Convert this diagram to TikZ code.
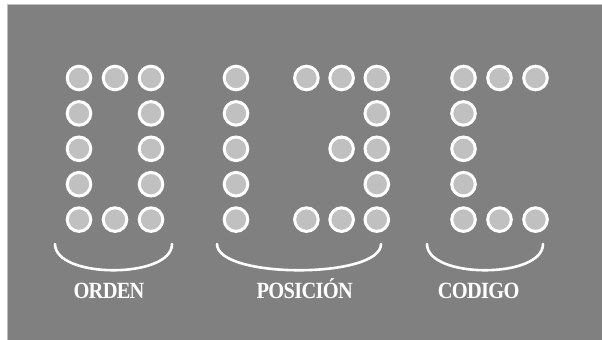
\documentclass[tikz,border=0pt]{standalone}
\usepackage{fontspec}
\setmainfont{Liberation Serif}[FakeStretch=0.88, LetterSpace=-3]
\usepackage{xcolor}
\usetikzlibrary{positioning}
\definecolor{panel}{HTML}{808080}
\definecolor{dotfill}{HTML}{C0C0C0}
\tikzstyle{every node}=[font=\bfseries\fontsize{16.5}{19}\selectfont]
\tikzstyle{dot} = [circle, draw=white, fill=dotfill, line width=0.075cm, minimum size=0.59cm, inner sep=0pt]
\tikzstyle{brace} = [draw=white, line width=0.065cm, line cap=round]
\tikzstyle{groupname} = [text=white, anchor=base, inner sep=0pt]

\begin{document}
\begin{tikzpicture}[x=0.025cm, y=-0.025cm]
    % Panel
    \useasboundingbox (0,0) rectangle (602,340);
    \fill [white] (0,0) rectangle (602,340);
    \clip (0,0) rectangle (602,340);
    \filldraw [fill=panel, draw=dotfill, line width=0.04cm] (7.5,4.5) rectangle (620,360);
    % Place dots: order field
    \foreach \c/\r in {1/1,2/1,3/1,1/2,3/2,1/3,3/3,1/4,3/4,1/5,2/5,3/5}
        \node [dot] (ord-\c-\r) at ({79+36*(\c-1)}, {78+35.4*(\r-1)}) {};
    % position field
    \foreach \c/\r in {1/1,3/1,4/1,5/1,1/2,5/2,1/3,4/3,5/3,1/4,5/4,1/5,3/5,4/5,5/5}
        \node [dot] (pos-\c-\r) at ({236+35.2*(\c-1)}, {78+35.4*(\r-1)}) {};
    % code field
    \foreach \c/\r in {1/1,2/1,3/1,1/2,1/3,1/4,1/5,2/5,3/5}
        \node [dot] (cod-\c-\r) at ({463.5+36*(\c-1)}, {78+35.4*(\r-1)}) {};
    % Brace ends
    \coordinate (ordL) at (55,244);
    \coordinate (ordR) at (172,244);
    \coordinate (posL) at (217,244);
    \coordinate (posR) at (381,244);
    \coordinate (codL) at (427,244);
    \coordinate (codR) at (543,244);
    % Draw braces
    \path [brace] (ordL) .. controls +(0,35) and +(0,35) .. (ordR);
    \path [brace] (posL) .. controls +(0,35) and +(0,35) .. (posR);
    \path [brace] (codL) .. controls +(0,35) and +(0,35) .. (codR);
    % Field names
    \node [groupname] (orden) at (109,298) {ORDEN};
    \node [groupname] (posicion) at (304.7,298) {POSICIÓN};
    \node [groupname] (codigo) at (478.7,298) {CODIGO};
\end{tikzpicture}
\end{document}
